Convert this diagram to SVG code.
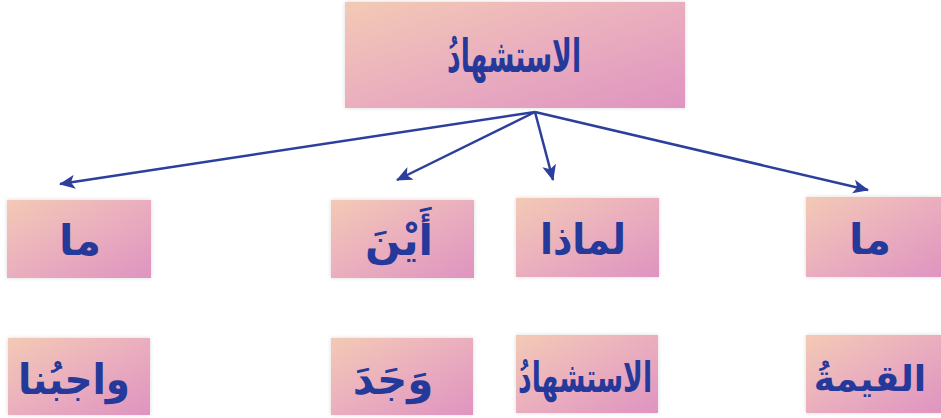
<svg xmlns="http://www.w3.org/2000/svg" width="941" height="418" viewBox="0 0 941 418">
<defs>
<linearGradient id="g" x1="0" y1="0" x2="1" y2="1">
<stop offset="0" stop-color="#f3cab5"/>
<stop offset="0.5" stop-color="#eaaebe"/>
<stop offset="1" stop-color="#df94c0"/>
</linearGradient>
<filter id="sh" x="-10%" y="-10%" width="120%" height="120%">
<feGaussianBlur in="SourceAlpha" stdDeviation="2"/>
<feComponentTransfer><feFuncA type="linear" slope="0.15"/></feComponentTransfer>
<feMerge><feMergeNode/><feMergeNode in="SourceGraphic"/></feMerge>
</filter>
<marker id="ah" markerWidth="16" markerHeight="14" refX="15" refY="7" orient="auto" markerUnits="userSpaceOnUse">
<path d="M0,0 L16,7 L0,14 L4,7 Z" fill="#2d3f9c"/>
</marker>
</defs>
<style>
.box{fill:url(#g);filter:url(#sh);}
.t{font-family:"DejaVu Sans",sans-serif;font-weight:bold;fill:#24399a;text-anchor:middle;direction:rtl;font-size:42px;}
.c{stroke:#2d3f9c;stroke-width:2.5;fill:none;marker-end:url(#ah);}
</style>
<g id="connectors">
<line class="c" x1="535" y1="112" x2="60" y2="184"/>
<line class="c" x1="535" y1="112" x2="397" y2="180"/>
<line class="c" x1="535" y1="112" x2="553" y2="180"/>
<line class="c" x1="535" y1="112" x2="868" y2="190"/>
</g>
<g id="n0"><rect class="box" x="345" y="2" width="340" height="106"/><text class="t" x="514" y="72" style="font-size:46px" textLength="134" lengthAdjust="spacingAndGlyphs">الاستشهادُ</text></g>
<g id="n1"><rect class="box" x="7" y="200" width="144" height="78"/><text class="t" x="80" y="255">ما</text></g>
<g id="n2"><rect class="box" x="331" y="200" width="143" height="78"/><text class="t" x="399" y="255">أَيْنَ</text></g>
<g id="n3"><rect class="box" x="516" y="198" width="143" height="79"/><text class="t" x="583" y="254" textLength="86" lengthAdjust="spacingAndGlyphs">لماذا</text></g>
<g id="n4"><rect class="box" x="806" y="197" width="135" height="80"/><text class="t" x="870" y="254">ما</text></g>
<g id="n5"><rect class="box" x="8" y="338" width="142" height="77"/><text class="t" x="74" y="394" textLength="112" lengthAdjust="spacingAndGlyphs">واجبُنا</text></g>
<g id="n6"><rect class="box" x="331" y="338" width="142" height="77"/><text class="t" x="393" y="394">وَجَدَ</text></g>
<g id="n7"><rect class="box" x="516" y="335" width="142" height="78"/><text class="t" x="585" y="392" textLength="134" lengthAdjust="spacingAndGlyphs">الاستشهادُ</text></g>
<g id="n8"><rect class="box" x="806" y="335" width="135" height="78"/><text class="t" x="870" y="391" style="font-size:36px">القيمةُ</text></g>
</svg>
